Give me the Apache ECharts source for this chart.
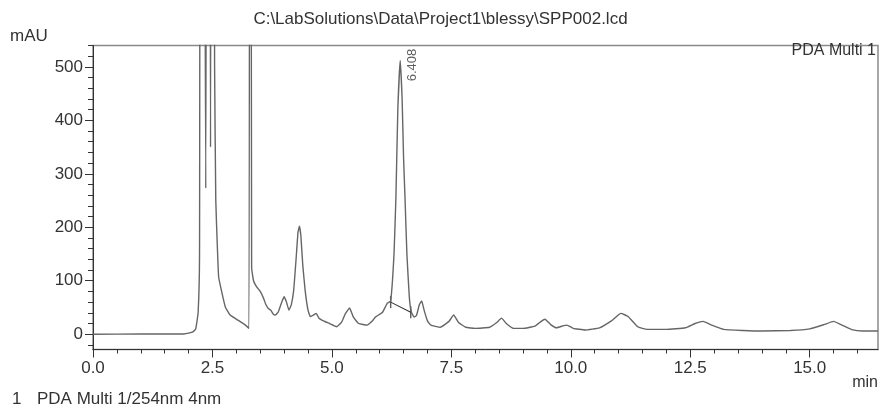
<!DOCTYPE html>
<html>
<head>
<meta charset="utf-8">
<script src="https://cdn.jsdelivr.net/npm/echarts@6/dist/echarts.min.js"></script>
<style>html,body{margin:0;padding:0;background:#fff;}#c{width:881px;height:410px;}</style>
</head>
<body>
<div id="c"></div>
<script>
// ---- data ----
const times = [0, 1.0, 1.9, 2.0, 2.1, 2.15, 2.2, 2.23, 2.25, 2.31, 2.36, 2.39, 2.44, 2.46, 2.48, 2.52, 2.545, 2.57, 2.6, 2.63, 2.70, 2.77, 2.87, 3.04, 3.19, 3.265, 3.28, 3.30, 3.32, 3.36, 3.43, 3.50, 3.57, 3.62, 3.67, 3.72, 3.77, 3.82, 3.88, 3.95, 4.0, 4.05, 4.1, 4.15, 4.2, 4.25, 4.29, 4.32, 4.35, 4.39, 4.44, 4.5, 4.55, 4.62, 4.67, 4.73, 4.8, 4.95, 5.1, 5.2, 5.28, 5.37, 5.45, 5.56, 5.74, 5.85, 5.91, 6.06, 6.16, 6.23, 6.30, 6.34, 6.38, 6.43, 6.47, 6.50, 6.53, 6.57, 6.62, 6.66, 6.72, 6.77, 6.83, 6.88, 6.93, 7.0, 7.07, 7.27, 7.45, 7.55, 7.65, 7.8, 8.0, 8.3, 8.45, 8.55, 8.65, 8.8, 9.0, 9.25, 9.38, 9.46, 9.58, 9.7, 9.85, 9.92, 10.05, 10.3, 10.6, 10.85, 11.05, 11.2, 11.4, 11.6, 12.0, 12.4, 12.6, 12.77, 12.95, 13.2, 13.6, 14.0, 14.6, 15.0, 15.3, 15.5, 15.7, 15.9, 16.1, 16.43];
const mAU   = [0, 0.3, 0.5, 2, 5, 10, 40, 150, 1500, 1500, 273, 1500, 1500, 350, 1500, 1500, 500, 250, 170, 107, 77, 51, 36, 26, 17, 11, 1500, 1500, 125, 100, 88, 80, 67, 55, 48, 45, 38, 36, 42, 60, 70, 60, 45, 55, 82, 140, 190, 202, 185, 130, 82, 45, 33, 36, 39, 30, 26, 20, 14, 22, 38, 49, 32, 20, 17, 25, 32, 41, 58, 62, 150, 256, 420, 512, 440, 330, 256, 150, 70, 42, 32, 35, 55, 62, 45, 25, 17, 13, 24, 36, 22, 13, 11, 13, 22, 30, 20, 11, 11, 15, 24, 28, 18, 12, 16, 17, 11, 8, 12, 25, 39, 33, 14, 9, 9, 12, 20, 24, 17, 9, 7, 6, 7, 10, 18, 24, 16, 8, 6, 6];

const xLabelTicks = [0, 2.5, 5.0, 7.5, 10.0, 12.5, 15.0];
const xMinorTicks = [0.5, 1, 1.5, 2, 3, 3.5, 4, 4.5, 5.5, 6, 6.5, 7, 8, 8.5, 9, 9.5, 10.5, 11, 11.5, 12, 13, 13.5, 14, 14.5, 15.5, 16];
const yLabelTicks = [0, 100, 200, 300, 400, 500];
const yMinorTicks = [-20, 20, 40, 60, 80, 120, 140, 160, 180, 220, 240, 260, 280, 320, 340, 360, 380, 420, 440, 460, 480, 520, 540];

const peakApex = [6.43, 512];
const peakText = '6.408';
const integStart = [6.23, 60];
const integEnd = [6.65, 41];

const X_MIN = 0, X_MAX = 16.43, Y_MIN = -28.6, Y_MAX = 540;
const titleText = 'C:\\LabSolutions\\Data\\Project1\\blessy\\SPP002.lcd';
const channelText = 'PDA Multi 1';
const footNum = '1';
const footText = 'PDA Multi 1/254nm 4nm';

const FONT = '"Liberation Sans", Arial, sans-serif';
const chart = echarts.init(document.getElementById('c'), null, {renderer: 'canvas'});
const trace = times.map((t, i) => [t, mAU[i]]);

const option = {
  animation: false,
  backgroundColor: '#fff',
  textStyle: {fontFamily: FONT},
  title: {
    text: titleText, left: 'center', top: 6,
    textStyle: {fontSize: 17, fontWeight: 'normal', color: '#333', fontFamily: FONT}
  },
  grid: {left: 93, right: 3, top: 45.5, bottom: 60.5, show: true, borderColor: '#8a8a8a', borderWidth: 1.5, containLabel: false},
  xAxis: [{
    type: 'value', min: X_MIN, max: X_MAX, position: 'bottom',
    name: 'min', nameLocation: 'end', nameGap: 0,
    nameTextStyle: {fontSize: 16, color: '#333', align: 'right', verticalAlign: 'top', padding: [25, 0, 0, 0]},
    axisLine: {show: true, onZero: false, lineStyle: {color: '#333', width: 1}},
    axisTick: {show: true, length: 8, customValues: xLabelTicks, lineStyle: {color: '#333'}},
    axisLabel: {show: true, customValues: xLabelTicks, fontSize: 17, color: '#333', margin: 10, formatter: v => v.toFixed(1)},
    splitLine: {show: false}
  }, {
    type: 'value', min: X_MIN, max: X_MAX, position: 'bottom', gridIndex: 0,
    axisLine: {show: false, onZero: false},
    axisTick: {show: true, length: 4, customValues: xMinorTicks, lineStyle: {color: '#333'}},
    axisLabel: {show: false},
    splitLine: {show: false}
  }],
  yAxis: [{
    type: 'value', min: Y_MIN, max: Y_MAX, position: 'left',
    name: 'mAU', nameLocation: 'end', nameGap: 0,
    nameTextStyle: {fontSize: 17, color: '#333', align: 'left', verticalAlign: 'bottom', padding: [0, 0, 1, -83]},
    axisLine: {show: true, onZero: false, lineStyle: {color: '#333', width: 1}},
    axisTick: {show: true, length: 8, customValues: yLabelTicks, lineStyle: {color: '#333'}},
    axisLabel: {show: true, customValues: yLabelTicks, fontSize: 17, color: '#333', margin: 10},
    splitLine: {show: false}
  }, {
    type: 'value', min: Y_MIN, max: Y_MAX, position: 'left', gridIndex: 0,
    axisLine: {show: false, onZero: false},
    axisTick: {show: true, length: 5, customValues: yMinorTicks, lineStyle: {color: '#333'}},
    axisLabel: {show: false},
    splitLine: {show: false}
  }],
  graphic: [
    {type: 'text', right: 5, top: 43, style: {text: channelText, font: '16px ' + FONT, fill: '#333'}},
    {type: 'text', left: 12, top: 391, style: {text: footNum, font: '17px ' + FONT, fill: '#333'}},
    {type: 'text', left: 37, top: 391, style: {text: footText, font: '17px ' + FONT, fill: '#333'}}
  ],
  series: [{
    type: 'line', xAxisIndex: 0, yAxisIndex: 0, data: trace,
    showSymbol: false, symbol: 'none', clip: true, smooth: 0.12,
    lineStyle: {color: '#666', width: 1.4}
  }, {
    type: 'line', xAxisIndex: 0, yAxisIndex: 0, data: [integStart, integEnd],
    showSymbol: false, symbol: 'none', lineStyle: {color: '#333', width: 1.1}
  }, {
    type: 'scatter', xAxisIndex: 0, yAxisIndex: 0, data: [integStart, integEnd],
    symbol: 'rect', symbolSize: [1.4, 12], itemStyle: {color: '#333'}
  }, {
    type: 'scatter', xAxisIndex: 0, yAxisIndex: 0, data: [peakApex],
    symbolSize: 1, itemStyle: {color: 'rgba(0,0,0,0)'},
    label: {show: true, formatter: peakText, position: [13, 5], rotate: 90, align: 'center', verticalAlign: 'middle', fontSize: 13, color: '#333', fontFamily: FONT}
  }]
};
chart.setOption(option);
</script>
</body>
</html>
